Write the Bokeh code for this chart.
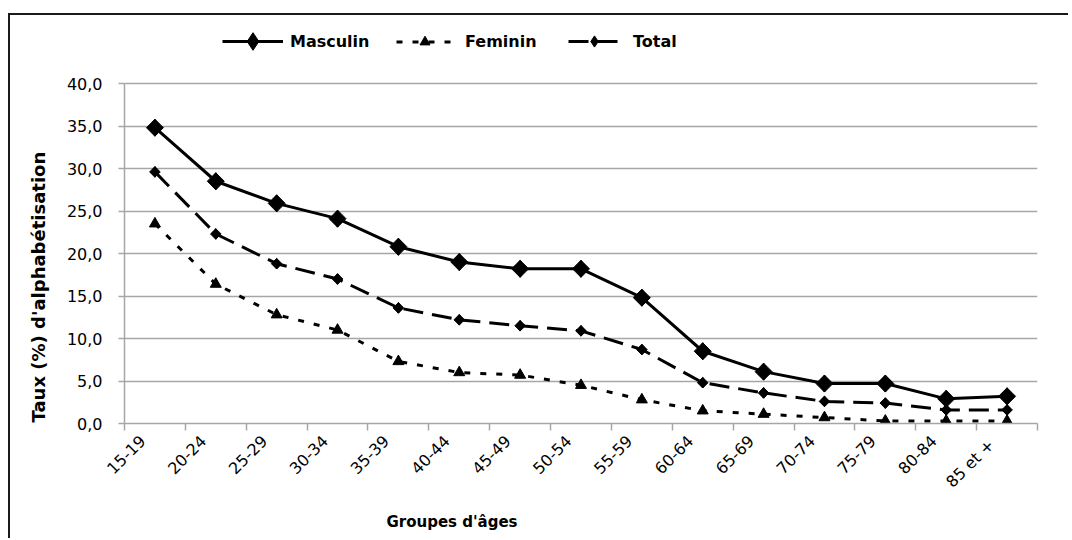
import math
from bokeh.plotting import figure
from bokeh.models import (Range1d, FixedTicker, CustomJSTickFormatter, Legend, LegendItem, Title)
from bokeh.embed import file_html
from bokeh.resources import INLINE

categories = ["15-19", "20-24", "25-29", "30-34", "35-39", "40-44", "45-49", "50-54",
              "55-59", "60-64", "65-69", "70-74", "75-79", "80-84", "85  et +"]
masculin = [34.8, 28.5, 25.9, 24.1, 20.8, 19.0, 18.2, 18.2, 14.8, 8.5, 6.1, 4.7, 4.7, 2.9, 3.2]
feminin = [23.5, 16.4, 12.8, 11.0, 7.3, 6.0, 5.7, 4.5, 2.8, 1.5, 1.1, 0.7, 0.3, 0.3, 0.3]
total = [29.6, 22.3, 18.8, 17.0, 13.6, 12.2, 11.5, 10.9, 8.7, 4.8, 3.6, 2.6, 2.4, 1.6, 1.6]
y_ticks = [0, 5, 10, 15, 20, 25, 30, 35, 40]
y_title = "Taux (%) d'alphabétisation"
x_title = "Groupes d'âges"

xs = [i + 0.5 for i in range(len(categories))]
LABEL_SHIFT = 0.2    # rotated labels sit slightly left of the category centre, as in Excel
label_pos = [x - LABEL_SHIFT for x in xs]

W, H = 1060, 525
ML, MR, MT, MB = 111, 33, 2, 117
FRAME_H = H - MT - MB            # 406 px
PX_PER_UNIT = 340 / 40.0         # 0..40 spans 340 px as in the reference
y_top = 40 + (FRAME_H - 340) / PX_PER_UNIT

p = figure(width=W, height=H, output_backend="svg", toolbar_location=None,
           x_range=Range1d(0, len(categories)), y_range=Range1d(0, y_top),
           min_border_left=ML, min_border_right=MR, min_border_top=MT, min_border_bottom=MB,
           margin=(13, 0, 0, 8),
           styles={"border-top": "2px solid #1a1a1a", "border-left": "2px solid #1a1a1a"})
p.outline_line_color = None
p.background_fill_color = "white"
p.border_fill_color = "white"

GRID = "#a6a6a6"
p.xgrid.visible = False
p.ygrid.grid_line_color = GRID
p.ygrid.grid_line_width = 1.5

# y axis
p.yaxis.ticker = FixedTicker(ticks=y_ticks)
p.yaxis.bounds = (0, 40)
p.yaxis.formatter = CustomJSTickFormatter(code="return tick.toFixed(1).replace('.', ',');")
p.yaxis.axis_line_color = GRID
p.yaxis.axis_line_width = 1.5
p.yaxis.major_tick_line_color = GRID
p.yaxis.major_tick_line_width = 1.5
p.yaxis.major_tick_out = 6
p.yaxis.major_tick_in = 0
p.yaxis.minor_tick_line_color = None
p.yaxis.major_label_text_font = "DejaVu Sans"
p.yaxis.major_label_text_font_size = "16px"
p.yaxis.major_label_text_color = "#000000"
p.yaxis.major_label_standoff = 16

# x axis
p.xaxis.ticker = FixedTicker(ticks=label_pos, minor_ticks=list(range(len(categories) + 1)))
p.xaxis.major_label_overrides = {x: c for x, c in zip(label_pos, categories)}
p.xaxis.major_label_orientation = math.pi / 4
p.xaxis.axis_line_color = GRID
p.xaxis.axis_line_width = 1.5
p.xaxis.major_tick_line_color = None
p.xaxis.minor_tick_line_color = GRID
p.xaxis.minor_tick_line_width = 1.5
p.xaxis.minor_tick_out = 7
p.xaxis.minor_tick_in = 0
p.xaxis.major_label_text_font = "DejaVu Sans"
p.xaxis.major_label_text_font_size = "16px"
p.xaxis.major_label_text_color = "#000000"
p.xaxis.major_label_standoff = 8

# series lines
lm = p.line(xs, masculin, line_color="black", line_width=3)
lf = p.line(xs, feminin, line_color="black", line_width=3, line_dash="6 10")
lt = p.line(xs, total, line_color="black", line_width=3, line_dash="20 9")

# upright diamonds (used for the legend swatches; fully covered by the markers drawn on top)
km = p.scatter(xs, masculin, marker="diamond", size=17, fill_color="black", line_color="black")
kt = p.scatter(xs, total, marker="diamond", size=10.5, fill_color="black", line_color="black")

# plotted markers
sm = p.scatter(xs, masculin, marker="square", size=12, angle=math.pi / 4,
               fill_color="black", line_color="black")
sf = p.scatter(xs, feminin, marker="triangle", size=11, fill_color="black", line_color="black")
st = p.scatter(xs, total, marker="square", size=7.5, angle=math.pi / 4,
               fill_color="black", line_color="black")

LEG_CY = 382   # legend centre, px above the 0 line (page y ~41)

def add_legend(label, rends, x_off, gw, gh, standoff):
    leg = Legend(items=[LegendItem(label=label, renderers=rends)],
                 location=(x_off, LEG_CY - gh / 2), orientation="horizontal",
                 glyph_width=gw, glyph_height=gh, label_height=gh, label_standoff=standoff,
                 padding=0, margin=0, border_line_color=None, background_fill_alpha=0,
                 label_text_font="DejaVu Sans", label_text_font_style="bold",
                 label_text_font_size="16px", label_text_color="black")
    p.add_layout(leg, "center")

# marker size in a legend swatch is 0.4 * glyph height
add_legend("Masculin", [lm, km], 98, 61, 44, 7)
add_legend("Feminin", [lf, sf], 272, 57, 25, 12)
add_legend("Total", [lt, kt], 444, 52, 28, 13)

p.add_layout(Title(text=y_title, align="left", offset=1, standoff=30,
                   text_font="DejaVu Sans", text_font_style="bold", text_font_size="18px",
                   text_color="black"), "left")

p.add_layout(Title(text=x_title, align="left", offset=262, standoff=20,
                   text_font="DejaVu Sans", text_font_style="bold", text_font_size="15px",
                   text_color="black"), "below")

open("out.html", "w").write(file_html(p, INLINE))
